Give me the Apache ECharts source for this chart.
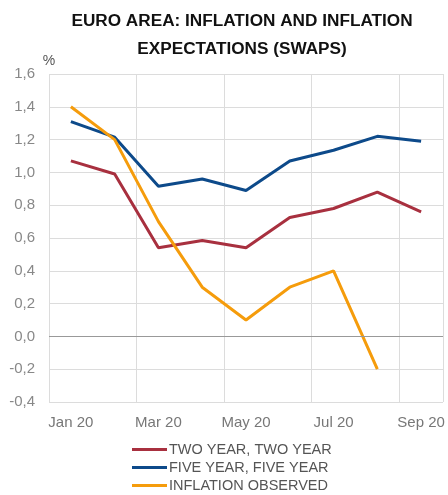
<!DOCTYPE html>
<html>
<head>
<meta charset="utf-8">
<script src="https://cdn.jsdelivr.net/npm/echarts@6/dist/echarts.min.js"></script>
<style>
html, body { margin: 0; padding: 0; background: #fff; }
#main { width: 448px; height: 495px; }
</style>
</head>
<body>
<div id="main"></div>
<script>
var months = ['Jan 20', 'Feb 20', 'Mar 20', 'Apr 20', 'May 20', 'Jun 20', 'Jul 20', 'Aug 20', 'Sep 20'];
var twoYear = [1.07, 0.99, 0.54, 0.585, 0.54, 0.725, 0.78, 0.88, 0.76];
var fiveYear = [1.31, 1.215, 0.915, 0.96, 0.89, 1.07, 1.135, 1.22, 1.19];
var inflation = [1.4, 1.2, 0.7, 0.3, 0.1, 0.3, 0.4, -0.2, null];

var chart = echarts.init(document.getElementById('main'));

var option = {
	backgroundColor: '#fff',
	animation: false,
	title: {
		text: 'EURO AREA: INFLATION AND INFLATION\nEXPECTATIONS (SWAPS)',
		left: 237,
		textAlign: 'center',
		top: 2,
		textStyle: {
			fontFamily: 'Liberation Sans',
			fontWeight: 'bold',
			fontSize: 17.2,
			lineHeight: 28,
			color: '#111'
		}
	},
	grid: {
		left: 49,
		right: 5,
		top: 74,
		bottom: 93
	},
	legend: {
		orient: 'vertical',
		left: 132,
		top: 442,
		padding: 0,
		height: 60,
		icon: 'path://M0,0L35,0L35,3L0,3Z',
		itemWidth: 35,
		itemHeight: 3,
		itemGap: 3,
		textStyle: {
			fontFamily: 'Liberation Sans',
			fontSize: 14.5,
			color: '#555',
			padding: [0, 0, 0, -3]
		},
		data: ['TWO YEAR, TWO YEAR', 'FIVE YEAR, FIVE YEAR', 'INFLATION OBSERVED']
	},
	xAxis: {
		type: 'category',
		data: months,
		boundaryGap: true,
		axisLine: { show: false },
		axisTick: { show: false },
		axisLabel: {
			interval: 1,
			margin: 13,
			fontFamily: 'Liberation Sans',
			fontSize: 15,
			color: '#777'
		},
		splitLine: {
			show: true,
			interval: 1,
			lineStyle: { color: '#dcdcdc' }
		}
	},
	yAxis: {
		type: 'value',
		min: -0.4,
		max: 1.6,
		interval: 0.2,
		name: '%',
		nameLocation: 'end',
		nameGap: 6,
		nameTextStyle: {
			fontFamily: 'Liberation Sans',
			fontSize: 14,
			color: '#555',
			align: 'center'
		},
		axisLine: { show: false },
		axisTick: { show: false },
		axisLabel: {
			margin: 14,
			fontFamily: 'Liberation Sans',
			fontSize: 15,
			color: '#888',
			formatter: function (v) {
				return v.toFixed(1).replace('.', ',');
			}
		},
		splitLine: {
			lineStyle: { color: '#dcdcdc' }
		}
	},
	series: [
		{
			name: 'TWO YEAR, TWO YEAR',
			type: 'line',
			data: twoYear,
			symbol: 'none',
			lineStyle: { color: '#a8303f', width: 3 },
			itemStyle: { color: '#a8303f' },
			markLine: {
				silent: true,
				symbol: 'none',
				label: { show: false },
				lineStyle: { color: '#999', type: 'solid', width: 1 },
				data: [{ yAxis: 0 }]
			},
			z: 3
		},
		{
			name: 'FIVE YEAR, FIVE YEAR',
			type: 'line',
			data: fiveYear,
			symbol: 'none',
			lineStyle: { color: '#0d4a8a', width: 3 },
			itemStyle: { color: '#0d4a8a' },
			z: 3
		},
		{
			name: 'INFLATION OBSERVED',
			type: 'line',
			data: inflation,
			symbol: 'none',
			lineStyle: { color: '#f59c0c', width: 3 },
			itemStyle: { color: '#f59c0c' },
			z: 4
		}
	]
};

chart.setOption(option);
</script>
</body>
</html>
